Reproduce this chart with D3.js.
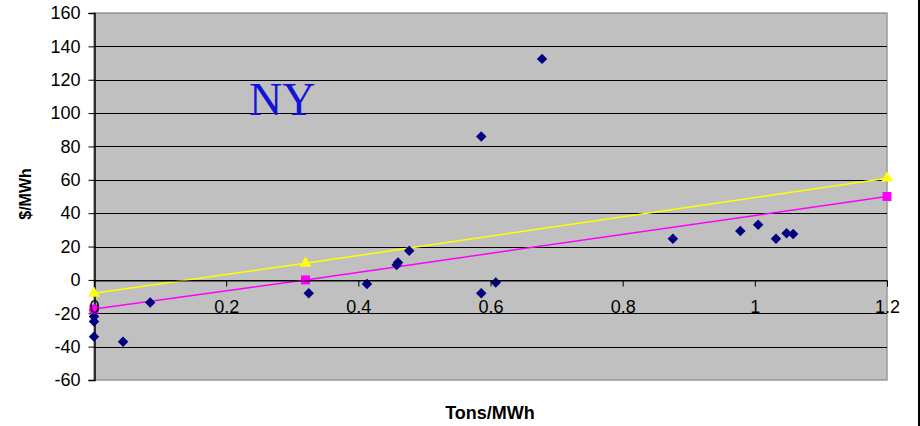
<!DOCTYPE html>
<html>
<head>
<meta charset="utf-8">
<script src="https://cdn.jsdelivr.net/npm/d3@7"></script>
<style>
body{margin:0;background:#fff;}
svg text{font-family:Arial,"Liberation Sans",sans-serif;}
</style>
</head>
<body>
<div id="chart"></div>
<script>
// scatter points (tons/MWh, $/MWh)
var ptX = [0, 0, 0, 0, 0.044, 0.085, 0.325, 0.413, 0.458, 0.46, 0.477, 0.586, 0.608, 0.586, 0.678, 0.876, 0.978, 1.005, 1.032, 1.048, 1.058];
var ptY = [-18, -22, -25, -34, -37, -13.5, -8, -2.5, 9, 10.5, 17.5, -8, -1.5, 86, 132.5, 24.7, 29.3, 33.1, 24.7, 27.9, 27.5];
// two lines
var lineX = [0, 0.32, 1.2];
var yellowY = [-8, 10, 61];
var magentaY = [-17.5, 0, 50];
var xTicks = [0.2, 0.4, 0.6, 0.8, 1, 1.2];
var yTicks = [-60, -40, -20, 0, 20, 40, 60, 80, 100, 120, 140, 160];

var W = 920, H = 426;
var svg = d3.select("#chart").append("svg").attr("width", W).attr("height", H);

var x = d3.scaleLinear().domain([0, 1.2]).range([94, 887]);
var y = d3.scaleLinear().domain([-60, 160]).range([380, 13]);

// plot background
svg.append("rect").attr("x", x(0)).attr("y", y(160)).attr("width", x(1.2) - x(0)).attr("height", y(-60) - y(160))
    .attr("fill", "#c0c0c0").attr("stroke", "#9a9a9a").attr("stroke-width", 1.5);

// gridlines
svg.selectAll(".grid").data(yTicks.filter(function(d){return d != -60;})).enter().append("line")
    .attr("x1", x(0)).attr("x2", x(1.2))
    .attr("y1", function(d){return Math.round(y(d)) + 0.5;})
    .attr("y2", function(d){return Math.round(y(d)) + 0.5;})
    .attr("stroke", function(d){return d == 160 ? "#9a9a9a" : "#000";}).attr("stroke-width", 1);

// y axis
var yAxis = d3.axisLeft(y).tickValues(yTicks).tickSize(6).tickPadding(8)
    .tickFormat(function(d){return String(d);});
var gy = svg.append("g").attr("transform", "translate(" + (x(0) + 0.5) + ",0)").call(yAxis);
gy.select(".domain").attr("stroke", "#000").attr("stroke-width", 1.5);
gy.selectAll("text").attr("font-size", 18).attr("fill", "#000").style("font-family", "Arial, 'Liberation Sans', sans-serif");

// lines
var line = d3.line().x(function(d){return x(d[0]);}).y(function(d){return y(d[1]);});
svg.append("path").datum(d3.zip(lineX, yellowY)).attr("d", line).attr("fill", "none").attr("stroke", "#ffff00").attr("stroke-width", 1.5);
svg.append("path").datum(d3.zip(lineX, magentaY)).attr("d", line).attr("fill", "none").attr("stroke", "#ff00ff").attr("stroke-width", 1.5);

// diamonds
svg.selectAll(".pt").data(d3.zip(ptX, ptY)).enter().append("path")
    .attr("d", d3.symbol().type(d3.symbolSquare).size(55))
    .attr("transform", function(d){return "translate(" + x(d[0]) + "," + y(d[1]) + ") rotate(45)";})
    .attr("fill", "#000080");

// markers on lines
svg.selectAll(".tri").data(d3.zip(lineX, yellowY)).enter().append("path")
    .attr("d", d3.symbol().type(d3.symbolTriangle).size(60))
    .attr("transform", function(d){return "translate(" + x(d[0]) + "," + y(d[1]) + ")";})
    .attr("fill", "#ffff00");
svg.selectAll(".sq").data(d3.zip(lineX, magentaY)).enter().append("rect")
    .attr("x", function(d){return x(d[0]) - 4.5;}).attr("y", function(d){return y(d[1]) - 4.5;})
    .attr("width", 9).attr("height", 9).attr("fill", "#ff00ff");

// x axis through zero
var xAxis = d3.axisBottom(x).tickValues([0].concat(xTicks)).tickSize(6).tickPadding(14)
    .tickFormat(function(d){return String(+d.toFixed(1));});
var gx = svg.append("g").attr("transform", "translate(0," + (Math.round(y(0)) + 0.5) + ")").call(xAxis);
gx.select(".domain").attr("stroke", "#000").attr("stroke-width", 1);
gx.selectAll("line").attr("stroke", "#000");
gx.selectAll("text").attr("font-size", 18).attr("fill", "#000").style("font-family", "Arial, 'Liberation Sans', sans-serif");
gx.selectAll(".tick").filter(function(d){return d == 0;}).select("line").remove();

// NY label
svg.append("text").attr("x", 249).attr("y", 115).text("NY")
    .style("font-family", "'Times New Roman','Liberation Serif',serif").attr("font-size", 46).attr("fill", "#1414d8");

// axis titles
svg.append("text").attr("x", 490).attr("y", 419).attr("text-anchor", "middle")
    .attr("font-size", 18).attr("font-weight", "bold").text("Tons/MWh");
svg.append("text").attr("transform", "translate(31,194) rotate(-90)").attr("text-anchor", "middle")
    .attr("font-size", 16).attr("font-weight", "bold").text("$/MWh");

// right frame edge
svg.append("line").attr("x1", 919).attr("x2", 919).attr("y1", 0).attr("y2", H).attr("stroke", "#000").attr("stroke-width", 2);
</script>
</body>
</html>
